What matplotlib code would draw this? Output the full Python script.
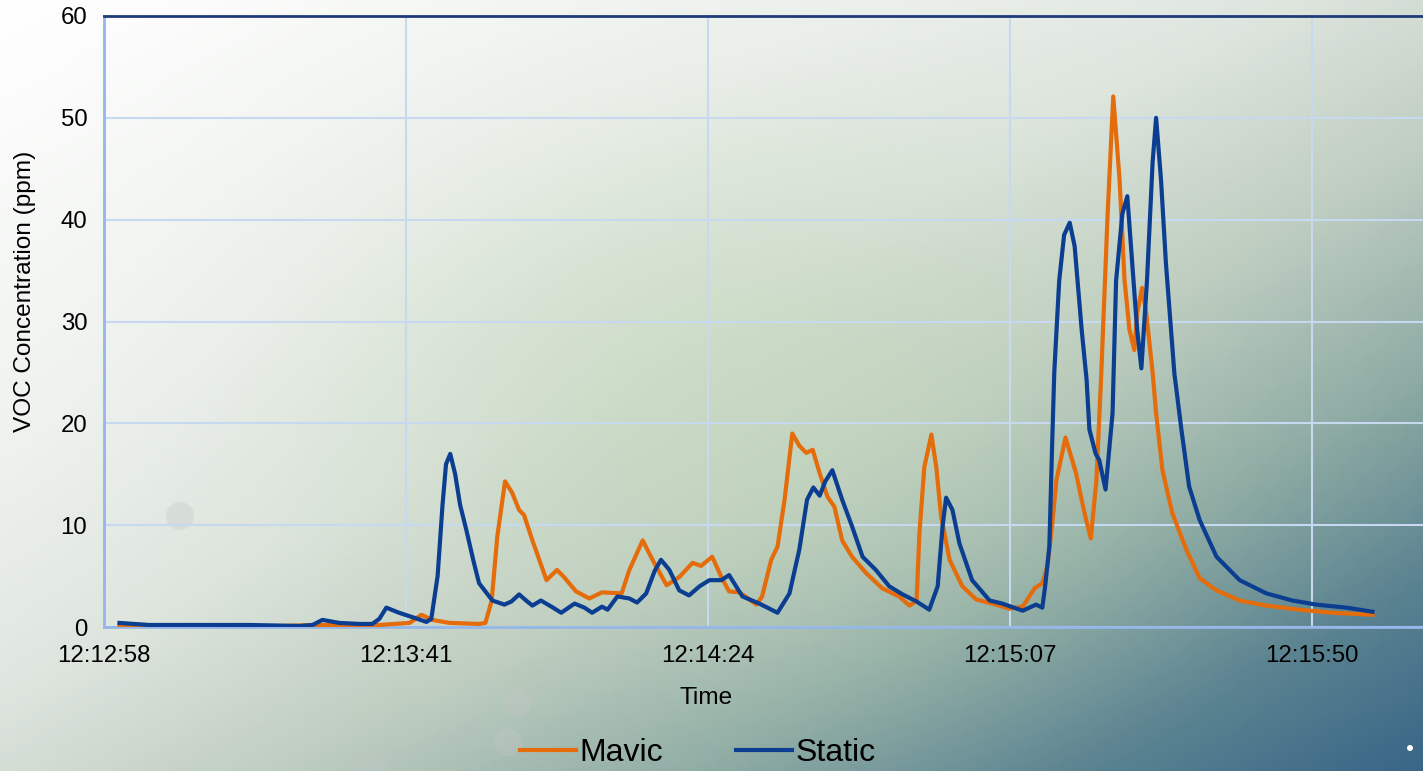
import numpy as np
import matplotlib
matplotlib.use('Agg')
import matplotlib.pyplot as plt
from matplotlib.colors import LinearSegmentedColormap, to_rgb
from matplotlib.patches import Circle

plt.rcParams['font.family'] = ['Liberation Sans', 'DejaVu Sans']

# seconds after 12:12:58
static_t = [2.2, 6.4, 13.6, 20.7, 27.8, 29.7, 31.1, 33.5, 36.4, 38.2, 39.2, 40.2, 42.0, 44.2, 45.9,
            46.6, 47.5, 48.2, 48.7, 49.3, 50.0, 50.7, 51.6, 52.6, 53.4, 55.3, 57.0, 58.0, 59.1, 60.1,
            61.0, 62.2, 63.7, 65.1, 67.0, 68.4, 69.5, 70.9, 71.7, 73.1, 74.8, 75.9, 77.2, 78.4, 79.3,
            80.5, 81.9, 83.3, 84.8, 86.2, 87.9, 89.0, 90.9, 93.3, 95.9, 97.6, 99.0, 100.1, 101.0, 101.9,
            102.7, 103.7, 105.1, 106.5, 108.0, 109.9, 111.8, 113.7, 115.7, 117.5, 118.7, 119.4, 119.9,
            120.8, 121.8, 123.6, 126.1, 127.9, 130.8, 132.7, 133.6, 134.0, 134.6, 135.0, 135.3, 136.0,
            136.7, 137.5, 138.2, 139.2, 139.9, 140.3, 141.2, 141.7, 142.6, 143.6, 144.1, 145.0, 145.7,
            146.4, 147.1, 147.7, 148.5, 149.3, 149.8, 150.5, 151.2, 152.4, 153.4, 154.5, 156.0, 158.4,
            161.7, 165.5, 169.2, 172.6, 176.9, 180.6]
static_v = [0.4, 0.2, 0.2, 0.2, 0.1, 0.2, 0.7, 0.4, 0.3, 0.3, 0.8, 1.9, 1.4, 0.9, 0.5,
            0.8, 5.0, 12.0, 16.0, 17.0, 15.0, 12.0, 9.5, 6.5, 4.3, 2.6, 2.2, 2.5, 3.2, 2.6,
            2.1, 2.6, 2.0, 1.4, 2.3, 1.9, 1.4, 2.0, 1.7, 3.0, 2.8, 2.4, 3.3, 5.5, 6.6,
            5.6, 3.6, 3.1, 4.0, 4.6, 4.6, 5.1, 3.0, 2.3, 1.4, 3.3, 7.6, 12.5, 13.7, 12.9,
            14.3, 15.4, 12.5, 9.9, 6.9, 5.6, 4.0, 3.2, 2.5, 1.7, 4.0, 9.9, 12.7,
            11.5, 8.2, 4.6, 2.6, 2.3, 1.6, 2.2, 1.9, 4.0, 7.9, 18.0, 25.0, 34.0,
            38.5, 39.7, 37.4, 29.2, 24.3, 19.4, 17.0, 16.4, 13.5, 21.0, 34.0, 40.6, 42.3,
            35.7, 29.2, 25.4, 34.0, 45.6, 50.0, 43.9, 35.7, 24.9, 19.4, 13.8, 10.5, 6.9,
            4.6, 3.3, 2.6, 2.2, 1.9, 1.5]

mavic_t = [2.2, 13.6, 24.9, 30.6, 39.2, 43.5, 45.2, 46.7, 49.2, 53.4, 54.3, 55.2, 56.0, 57.1, 58.1,
           59.1, 59.8, 61.0, 63.0, 64.5, 65.5, 67.2, 69.1, 70.9, 73.7, 74.8, 76.7, 78.1, 80.1, 81.9,
           83.8, 85.0, 86.6, 87.9, 89.0, 90.5, 92.9, 93.7, 95.0, 95.9, 96.9, 98.0, 99.0, 100.0, 100.9,
           101.9, 103.0, 104.0, 105.1, 106.5, 108.5, 110.8, 113.2, 114.7, 115.7, 116.1, 116.8, 117.8,
           118.5, 119.2, 120.4, 122.2, 124.2, 127.0, 128.9, 130.8, 132.5, 133.6, 134.3, 135.0, 135.6,
           136.9, 138.4, 139.6, 140.5, 141.3, 142.0, 142.9, 143.7, 144.6, 145.3, 146.0, 146.7, 147.1,
           147.8, 148.4, 149.3, 149.8, 150.7, 152.1, 154.1, 156.0, 158.4, 161.7, 165.5, 170.2, 174.9,
           180.6]
mavic_v = [0.1, 0.1, 0.1, 0.2, 0.2, 0.4, 1.2, 0.7, 0.4, 0.3, 0.4, 2.6, 8.9, 14.3, 13.2,
           11.5, 11.0, 8.5, 4.6, 5.6, 4.9, 3.5, 2.8, 3.4, 3.3, 5.6, 8.5, 6.6, 4.1, 4.9,
           6.3, 6.0, 6.9, 4.9, 3.5, 3.4, 2.2, 3.0, 6.6, 7.9, 12.5, 19.0, 17.8, 17.1, 17.4,
           15.1, 12.8, 11.8, 8.5, 6.9, 5.3, 3.8, 3.0, 2.1, 2.6, 9.2, 15.7, 18.9,
           15.7, 10.8, 6.6, 4.0, 2.7, 2.2, 1.8, 2.0, 3.8, 4.3, 5.9, 10.0, 14.4,
           18.6, 15.1, 11.2, 8.7, 14.4, 25.0, 40.6, 52.1, 43.9, 34.1, 29.2, 27.2, 30.8,
           33.3, 30.8, 25.0, 21.0, 15.4, 11.2, 7.6, 4.8, 3.6, 2.6, 2.1, 1.7, 1.4,
           1.2]

tick_secs = [0, 43, 86, 129, 172]
tick_labels = ['12:12:58', '12:13:41', '12:14:24', '12:15:07', '12:15:50']

W, H = 1423, 771
fig = plt.figure(figsize=(W / 100, H / 100), dpi=100)

# background: diagonal gradient with a greenish tint in the middle
bg = fig.add_axes([0, 0, 1, 1], zorder=0)
bg.set_axis_off()
xx, yy = np.meshgrid(np.linspace(0, 1, 400), np.linspace(0, 1, 220))
s = (xx + yy) / 2
cmap = LinearSegmentedColormap.from_list('bg', [
    (0.0, '#ffffff'), (0.3, '#eff2ef'), (0.45, '#dfe6df'), (0.6, '#bfcdc2'),
    (0.75, '#8aa8a2'), (0.88, '#57808f'), (1.0, '#3a6687')])
img = cmap(s)[:, :, :3]
w = 0.6 * np.exp(-(((xx - 0.52) / 0.28) ** 2 + ((yy - 0.52) / 0.35) ** 2))
img = img * (1 - w[..., None]) + np.array(to_rgb('#c2d6ba')) * w[..., None]
bg.imshow(img, aspect='auto', extent=[0, W, H, 0])
for cx, cy in [(180, 516), (518, 703), (508, 742), (372, 768)]:
    bg.add_patch(Circle((cx, cy), 14, color='#c2c7c5', alpha=0.35, lw=0))
bg.add_patch(Circle((1410, 748), 3, color='white', lw=0))
bg.set_xlim(0, W)
bg.set_ylim(H, 0)

ax = fig.add_axes([104 / W, 1 - 627 / H, 1 - 104 / W, 611 / H], zorder=1)
ax.set_facecolor('none')

orange = '#E46C0A'
blue = '#0B3D91'
ax.plot(mavic_t, mavic_v, color=orange, lw=3, solid_joinstyle='round', label='Mavic', zorder=3)
ax.plot(static_t, static_v, color=blue, lw=3, solid_joinstyle='round', label='Static', zorder=4)

ax.set_xlim(0, 187.8)
ax.set_ylim(0, 60)
ax.set_yticks(range(0, 61, 10))
ax.set_xticks(tick_secs)
ax.set_xticklabels(tick_labels)
ax.tick_params(length=0, labelsize=17.3, colors='black')
ax.tick_params(axis='y', pad=12)
ax.tick_params(axis='x', pad=13)
ax.grid(True, color='#c6d9f1', lw=1.5, zorder=1)
ax.set_axisbelow(True)

ax.spines['right'].set_visible(False)
ax.spines['top'].set_color('#1F3A78')
ax.spines['top'].set_linewidth(2)
ax.spines['left'].set_color('#95b6e8')
ax.spines['left'].set_linewidth(2)
ax.spines['bottom'].set_color('#95b6e8')
ax.spines['bottom'].set_linewidth(2)

ax.set_ylabel('VOC Concentration (ppm)', fontsize=17.6, va='center')
ax.yaxis.set_label_coords((25 - 104) / (W - 104), (627 - 291) / 611)
ax.set_xlabel('Time', fontsize=17.6, va='center')
ax.xaxis.set_label_coords((706 - 104) / (W - 104), (627 - 698) / 611)

fig.legend(loc='center', bbox_to_anchor=(698 / W, 1 - 753 / H), ncol=2, frameon=False,
           fontsize=23, handlelength=1.75, handletextpad=0.1, columnspacing=2.3,
           borderpad=0)

fig.savefig('out.png', dpi=100)
